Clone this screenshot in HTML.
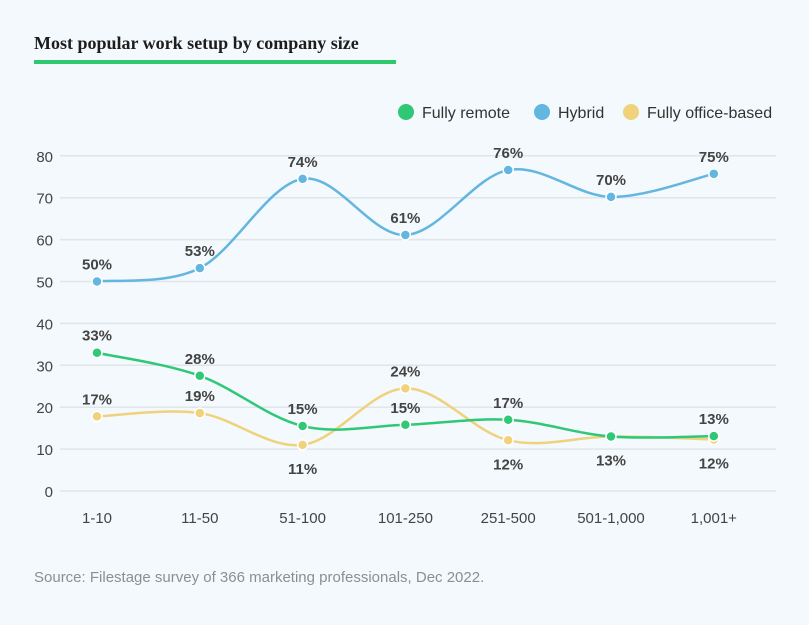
<!DOCTYPE html>
<html><head><meta charset="utf-8"><style>
html,body{margin:0;padding:0;background:#f3f9fc;}
body{width:809px;height:625px;position:relative;overflow:hidden;font-family:"Liberation Sans",sans-serif;}
#title{position:absolute;left:34px;top:33px;font-family:"Liberation Serif",serif;font-weight:bold;font-size:18px;color:#1d1d1d;}
#uline{position:absolute;left:34px;top:60px;width:362px;height:4px;background:#2fc86d;}
#source{position:absolute;left:34px;top:569px;font-size:15px;color:#8a8f94;}
svg{position:absolute;left:0;top:0;}
</style></head><body>
<div id="title">Most popular work setup by company size</div>
<div id="uline"></div>
<svg id="chart" width="809" height="625"></svg>
<div id="source">Source: Filestage survey of 366 marketing professionals, Dec 2022.</div>
<script>
const categories=["1-10","11-50","51-100","101-250","251-500","501-1,000","1,001+"];
const remoteValues=[33,27.5,15.5,15.8,17,13,13.1];
const hybridValues=[50,53.2,74.5,61.1,76.6,70.2,75.7];
const officeValues=[17.8,18.6,11,24.5,12.1,13,12.3];
const remoteLabels=["33%","28%","15%","15%","17%","","13%"];
const hybridLabels=["50%","53%","74%","61%","76%","70%","75%"];
const officeLabels=["17%","19%","11%","24%","12%","13%","12%"];
const officeBelow=[false,false,true,false,true,true,true];
const yTicks=[0,10,20,30,40,50,60,70,80];
const NS="http://www.w3.org/2000/svg";
const svg=document.getElementById('chart');
const x=i=>97+i*102.8;
const y=v=>491-v*4.19;
function mk(t,a){const e=document.createElementNS(NS,t);for(const k in a)e.setAttribute(k,a[k]);svg.appendChild(e);return e;}
yTicks.forEach(t=>{
 const g=mk('line',{x1:60,x2:776,y1:y(t),y2:y(t),stroke:'#dfe5e9','stroke-width':1.5});
 
 
 const l=mk('text',{x:53,y:y(t)+6,'text-anchor':'end','font-size':15,fill:'#444'});l.textContent=t;
 
 
});
categories.forEach((c,i)=>{
 const l=mk('text',{x:x(i),y:523,'text-anchor':'middle','font-size':15,fill:'#444'});l.textContent=c;
 
 
});
function path(vals){
 const p=vals.map((v,i)=>[x(i),y(v)]);let d='M'+p[0][0]+','+p[0][1];
 for(let i=0;i<p.length-1;i++){const p0=p[i-1]||p[i],p1=p[i],p2=p[i+1],p3=p[i+2]||p2;
  d+=' C'+(p1[0]+(p2[0]-p0[0])/6)+','+(p1[1]+(p2[1]-p0[1])/6)+' '+(p2[0]-(p3[0]-p1[0])/6)+','+(p2[1]-(p3[1]-p1[1])/6)+' '+p2[0]+','+p2[1];}
 return d;}
function series(vals,labels,color,name,below){
 const pl=mk('path',{d:path(vals),fill:'none',stroke:color,'stroke-width':2.5});
 
 
 vals.forEach((v,i)=>{
  const c=mk('circle',{cx:x(i),cy:y(v),r:5,fill:color,stroke:'#fff','stroke-width':1.5});
  
  
  if(labels[i]){const b=below&&below[i];
   const t=mk('text',{x:x(i),y:b?y(v)+29:y(v)-12,'text-anchor':'middle','font-size':15,'font-weight':'bold',fill:'#444'});
   t.textContent=labels[i];
   
   }
 });}
series(officeValues,officeLabels,'#efd27b','office',officeBelow);
series(remoteValues,remoteLabels,'#30c776','remote',null);
series(hybridValues,hybridLabels,'#62b6df','hybrid',null);
const leg=[["Fully remote",'#30c776',406],["Hybrid",'#62b6df',542],["Fully office-based",'#efd27b',631]];
leg.forEach(l=>{
 const c=mk('circle',{cx:l[2],cy:112,r:8,fill:l[1]});
 
 
 const t=mk('text',{x:l[2]+16,y:118,'font-size':16,fill:'#333'});t.textContent=l[0];
 
 
});
</script>
</body></html>
